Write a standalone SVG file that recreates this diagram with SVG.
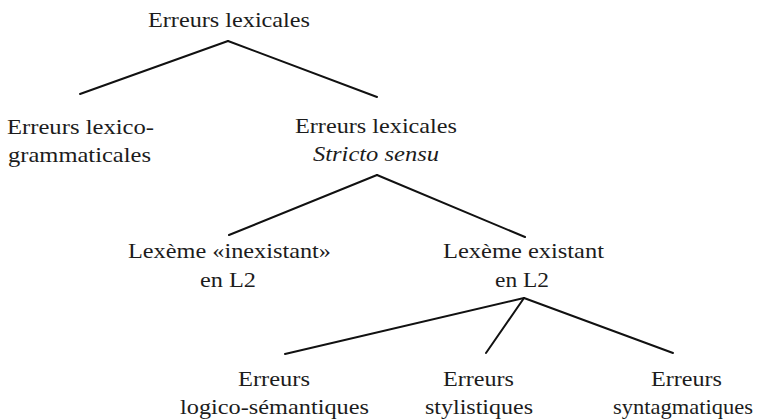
<svg xmlns="http://www.w3.org/2000/svg" width="766" height="419" viewBox="0 0 766 419">
<style>
.t{font-size:21px;fill:#1c1c1c}
.i{font-style:italic}
.c{stroke:#111;stroke-width:2;fill:none;stroke-linecap:round}
</style>
<rect width="766" height="419" fill="#ffffff"/>
<g id="connectors">
<line class="c" x1="228" y1="41" x2="80" y2="94"/>
<line class="c" x1="228" y1="41" x2="377" y2="97"/>
<line class="c" x1="377" y1="175" x2="229" y2="235"/>
<line class="c" x1="377" y1="175" x2="525" y2="237"/>
<line class="c" x1="524" y1="298" x2="285" y2="354"/>
<line class="c" x1="524" y1="298" x2="486" y2="353"/>
<line class="c" x1="524" y1="298" x2="673" y2="353"/>
</g>
<g font-family="Liberation Serif, DejaVu Serif, serif">
<g id="n-root"><text class="t" x="148" y="27" textLength="162" lengthAdjust="spacingAndGlyphs">Erreurs lexicales</text></g>
<g id="n-lexgram">
<text class="t" x="7" y="134" textLength="147" lengthAdjust="spacingAndGlyphs">Erreurs lexico-</text>
<text class="t" x="8" y="162" textLength="143" lengthAdjust="spacingAndGlyphs">grammaticales</text>
</g>
<g id="n-stricto">
<text class="t" x="295" y="133" textLength="162" lengthAdjust="spacingAndGlyphs">Erreurs lexicales</text>
<text class="t i" x="313" y="161" textLength="126" lengthAdjust="spacingAndGlyphs">Stricto sensu</text>
</g>
<g id="n-inexistant">
<text class="t" x="128" y="258" textLength="203" lengthAdjust="spacingAndGlyphs">Lexème «inexistant»</text>
<text class="t" x="200" y="287" textLength="56" lengthAdjust="spacingAndGlyphs">en L2</text>
</g>
<g id="n-existant">
<text class="t" x="443" y="258" textLength="161" lengthAdjust="spacingAndGlyphs">Lexème existant</text>
<text class="t" x="495" y="287" textLength="54" lengthAdjust="spacingAndGlyphs">en L2</text>
</g>
<g id="n-logico">
<text class="t" x="238" y="386" textLength="72" lengthAdjust="spacingAndGlyphs">Erreurs</text>
<text class="t" x="180" y="414" textLength="189" lengthAdjust="spacingAndGlyphs">logico-sémantiques</text>
</g>
<g id="n-stylistiques">
<text class="t" x="443" y="386" textLength="71" lengthAdjust="spacingAndGlyphs">Erreurs</text>
<text class="t" x="425" y="414" textLength="108" lengthAdjust="spacingAndGlyphs">stylistiques</text>
</g>
<g id="n-syntagmatiques">
<text class="t" x="651" y="386" textLength="71" lengthAdjust="spacingAndGlyphs">Erreurs</text>
<text class="t" x="613" y="414" textLength="140" lengthAdjust="spacingAndGlyphs">syntagmatiques</text>
</g>
</g>
</svg>
